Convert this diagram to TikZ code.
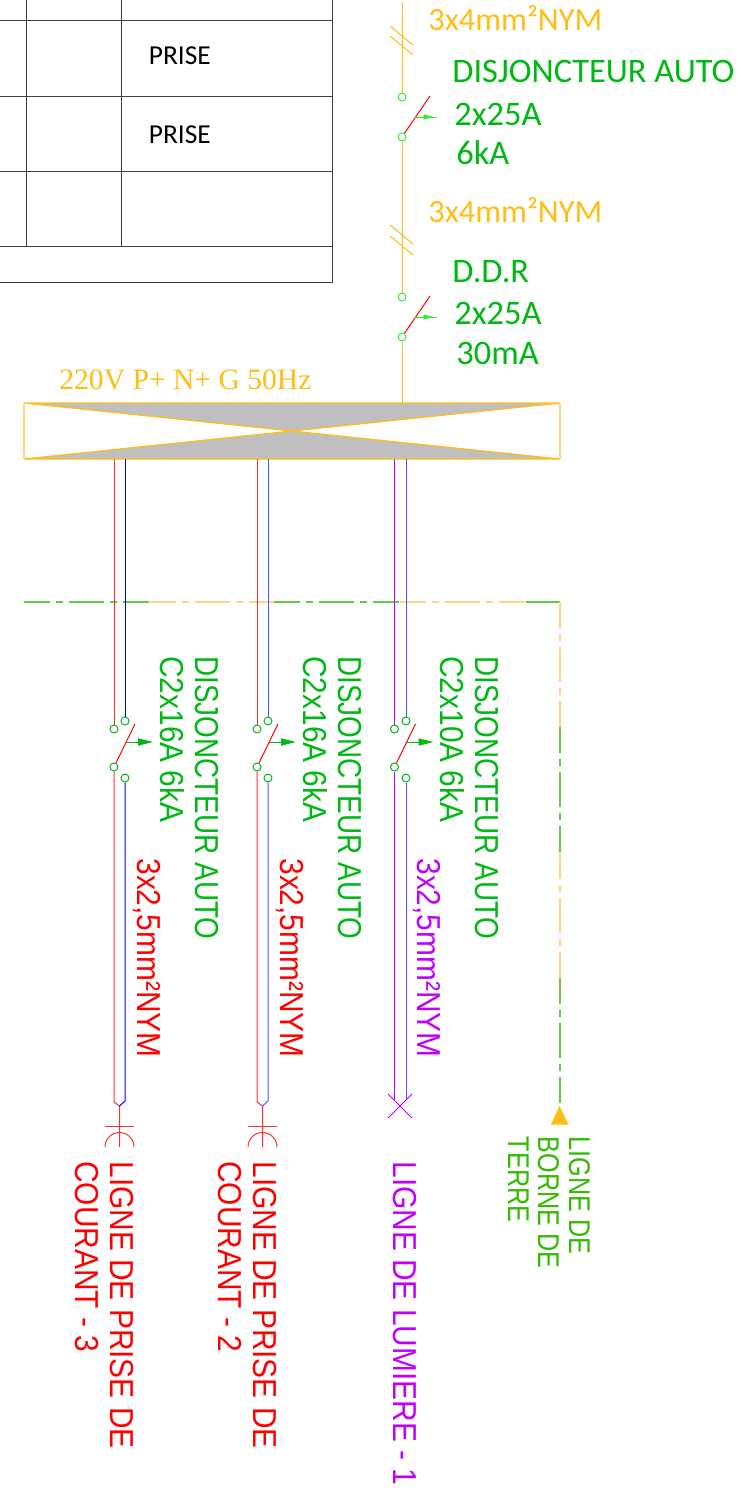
\documentclass[tikz,border=0pt]{standalone}
\usepackage{fontspec}
\setmainfont{Carlito}
\newfontfamily\vertfont[FakeStretch=.9]{Liberation Sans}
\newfontfamily\vertnarrow[FakeStretch=.84]{Liberation Sans}
\newfontfamily\timesfont{Liberation Serif}
\usetikzlibrary{arrows.meta}
\definecolor{cableor}{HTML}{FFBE14}
\definecolor{txtgreen}{HTML}{00B814}
\definecolor{lime}{HTML}{33F033}
\definecolor{earthgr}{HTML}{66C844}
\definecolor{earthor}{HTML}{FFD678}
\definecolor{earthtxt}{HTML}{33BB00}
\definecolor{lumviolet}{HTML}{C000FF}
\definecolor{barblue}{HTML}{5050FF}
\definecolor{tblline}{HTML}{404040}
\definecolor{wirered}{HTML}{FF3030}
\tikzset{
  contact/.style={circle,draw,fill=white,inner sep=0pt,minimum size=4pt,line width=.5pt},
  lbl/.style={anchor=base west,inner sep=0pt,font=\fontsize{17.2}{17.2}\selectfont},
  cablelbl/.style={anchor=base west,inner sep=0pt,text=cableor,font=\fontsize{16.2}{16.2}\selectfont},
  vlbl/.style={anchor=base west,inner sep=0pt,rotate=-90,font=\vertfont\fontsize{16.6}{16.6}\selectfont},
  vnarrow/.style={anchor=base west,inner sep=0pt,rotate=-90,font=\vertnarrow\fontsize{16.6}{16.6}\selectfont},
  wire/.style={line width=.5pt},
  earthdash/.style={line width=.6pt,dash pattern=on 13pt off 3pt on 3.5pt off 3pt on 17.5pt off 3pt on 3.5pt off 3pt on 13pt off 100pt}
}
\begin{document}
\begin{tikzpicture}[x=.5pt,y=-.5pt]
  \useasboundingbox (0,0) rectangle (746,1488);
  % table
  \draw[tblline,line width=.45pt] (0,20.5) -- (332,20.5) (0,96) -- (332,96) (0,171) -- (332,171)
    (0,246.5) -- (332,246.5) (0,282.5) -- (332,282.5) (332,0) -- (332,282.5)
    (26.5,0) -- (26.5,246.5) (121.5,0) -- (121.5,246.5);
  \node[lbl,text=black,font=\fontsize{13.7}{13.7}\selectfont] (prise1) at (148.5,64) {PRISE};
  \node[lbl,text=black,font=\fontsize{13.7}{13.7}\selectfont] (prise2) at (148.5,143.5) {PRISE};
  % arrival line and its two protections
  \coordinate (arr) at (402,2);
  \coordinate (barin) at (402,403);
  \foreach \sw/\ya/\yb in {dj/97/137,ddr/297/337}{
    \node[contact,draw=lime] (\sw-a) at (402,\ya) {};
    \node[contact,draw=lime] (\sw-b) at (402,\yb) {};
    \coordinate (\sw-t) at (430,\ya-1);
    \coordinate (\sw-m) at (414.5,\ya+20);
    \coordinate (\sw-e) at (437,\ya+20);
    \coordinate (\sw-p) at (433.5,\ya+20);
    \draw[red,wire] (\sw-b) -- (\sw-t);
    \draw[lime,wire] (\sw-m) -- (\sw-e);
    \draw[lime,wire,-{Triangle[length=5pt,width=2.6pt]}] (\sw-m) -- (\sw-p);
  }
  \draw[cableor,wire] (arr) -- (dj-a) (dj-b) -- (ddr-a) (ddr-b) -- (barin);
  \foreach \ya in {26,36,225,236}
    \draw[cableor,wire] (390,\ya) -- (413,\ya+19);
  \node[cablelbl] (c1) at (428,30.5) {3x4mm²NYM};
  \node[cablelbl] (c2) at (428,222) {3x4mm²NYM};
  \node[lbl,text=txtgreen] (t1) at (452,82.5) {DISJONCTEUR AUTO};
  \node[lbl,text=txtgreen] (t2) at (454,125.5) {2x25A};
  \node[lbl,text=txtgreen] (t3) at (456,164.5) {6kA};
  \node[lbl,text=txtgreen] (t4) at (452,282.5) {D.D.R};
  \node[lbl,text=txtgreen] (t5) at (454,324) {2x25A};
  \node[lbl,text=txtgreen] (t6) at (456,364.5) {30mA};
  % bar
  \node[lbl,text=cableor,font=\timesfont\fontsize{14.8}{14.8}\selectfont] (barlbl) at (59,389.5) {220V P+ N+ G 50Hz};
  \filldraw[fill=black!25,draw=cableor,line width=.6pt] (24,403) -- (560,403) -- (24,459) -- (560,459) -- cycle;
  \draw[earthor,line width=.7pt] (24,403) -- (24,459) (560,403) -- (560,459);
  % earth line
  \foreach \xa/\xb/\ecol in {24/150/earthgr,150/274.4/earthor,274.4/400/earthgr,400/525.6/earthor}
    \draw[\ecol,earthdash] (\xa,602) -- (\xb,602);
  \coordinate (ecorner) at (560,602);
  \coordinate (estart) at (525.6,602);
  \draw[earthgr,line width=.6pt] (estart) -- (ecorner);
  \foreach \ya/\yb/\ecol in {602/727/earthor,727/853/earthgr,853/978/earthor,978/1104/earthgr}
    \draw[\ecol,earthdash] (560,\ya) -- (560,\yb);
  \fill[cableor] (559.5,1106) -- (568.5,1124.5) -- (551,1124.5) -- cycle;
  % departures
  \foreach \br/\xa/\xb/\wa/\wb in {p3/114/125/wirered/blue,p2/257/268/wirered/barblue,lum/394.5/406/lumviolet/barblue}{
    \coordinate (\br-ta) at (\xa,459);
    \coordinate (\br-tb) at (\xb,459);
    \node[contact,draw=txtgreen] (\br-a1) at (\xa,729) {};
    \node[contact,draw=txtgreen] (\br-b1) at (\xb,721) {};
    \node[contact,draw=txtgreen] (\br-a2) at (\xa,767) {};
    \node[contact,draw=txtgreen] (\br-b2) at (\xb,778) {};
    \coordinate (\br-t) at (\xa+21,724);
    \coordinate (\br-m) at (\xa+12,742);
    \coordinate (\br-e) at (\xa+39,742);
    \draw[\wa,wire] (\br-ta) -- (\br-a1);
    \draw[\wb,wire] (\br-tb) -- (\br-b1);
    \draw[red,wire] (\br-a2) -- (\br-t);
    \draw[txtgreen,wire,-{Triangle[length=7.5pt,width=3.6pt]}] (\br-m) -- (\br-e);
  }
  % outlets
  \foreach \br/\xa/\xb/\xm/\wb in {p3/114/125/119.5/blue,p2/257/268/262.5/barblue}{
    \coordinate (\br-j) at (\xm,1106);
    \coordinate (\br-la) at (\xa,1102);
    \coordinate (\br-lb) at (\xb,1101);
    \coordinate (\br-s) at (\xm,1147);
    \draw[wirered,wire] (\br-a2) -- (\br-la) -- (\br-j) -- (\br-s);
    \draw[\wb,wire] (\br-b2) -- (\br-lb) -- (\br-j);
    \draw[wirered,wire] (\xm-14.5,1126) -- (\xm+14.5,1126);
    \draw[wirered,wire] (\xm-14.5,1147) arc[start angle=180,end angle=360,radius=14.5];
  }
  \coordinate (lum-ja) at (394.5,1100);
  \coordinate (lum-jb) at (406,1100);
  \draw[lumviolet,wire] (lum-a2) -- (lum-ja);
  \draw[barblue,wire] (lum-b2) -- (lum-jb);
  \draw[lumviolet,wire] (388,1094) -- (412,1118) (412,1094) -- (388,1118);
  % vertical texts
  \foreach \n/\dx/\rat in {1/0/C2x16A 6kA,2/143/C2x16A 6kA,3/280/C2x10A 6kA}{
    \node[vnarrow,text=txtgreen] (d\n) at (195+\dx,656) {DISJONCTEUR AUTO};
    \node[vlbl,text=txtgreen] (r\n) at (160+\dx,656) {\rat};
  }
  \node[vlbl,text=red] (k1) at (137,858) {3x2,5mm²NYM};
  \node[vlbl,text=red] (k2) at (280,858) {3x2,5mm²NYM};
  \node[vlbl,text=lumviolet] (k3) at (417,858) {3x2,5mm²NYM};
  \node[vlbl,text=red] (l3a) at (110,1161) {LIGNE DE PRISE DE};
  \node[vlbl,text=red] (l3b) at (75,1161) {COURANT - 3};
  \node[vlbl,text=red] (l2a) at (253,1161) {LIGNE DE PRISE DE};
  \node[vlbl,text=red] (l2b) at (218,1161) {COURANT - 2};
  \node[vlbl,text=lumviolet] (l1) at (393,1161) {LIGNE DE LUMIERE - 1};
  \node[vnarrow,text=earthtxt,font=\vertnarrow\fontsize{15}{15}\selectfont] (g1) at (569,1136.5) {LIGNE DE};
  \node[vnarrow,text=earthtxt,font=\vertnarrow\fontsize{15}{15}\selectfont] (g2) at (538,1136.5) {BORNE DE};
  \node[vnarrow,text=earthtxt,font=\vertnarrow\fontsize{15}{15}\selectfont] (g3) at (508,1136.5) {TERRE};
\end{tikzpicture}
\end{document}
